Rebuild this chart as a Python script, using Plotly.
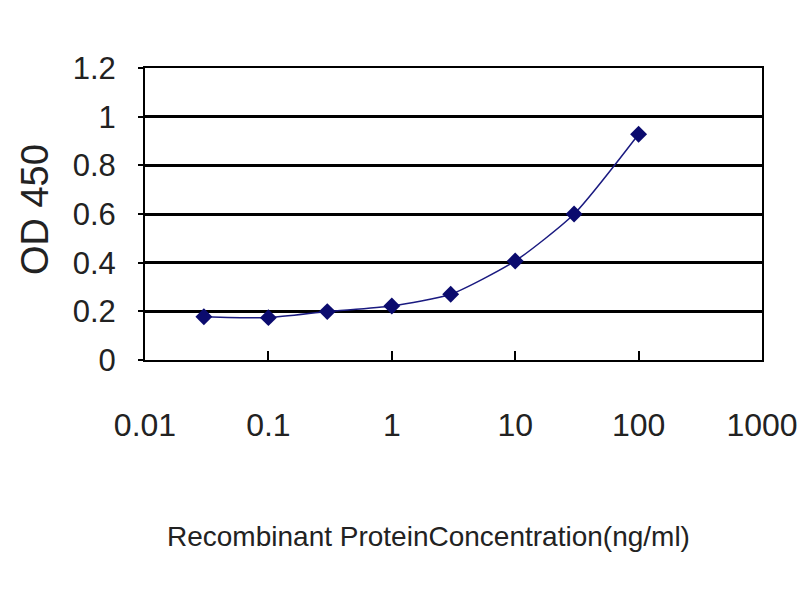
import plotly.graph_objects as go

concentration = [0.03, 0.1, 0.3, 1, 3, 10, 30, 100]
od450 = [0.178, 0.174, 0.199, 0.222, 0.27, 0.407, 0.60, 0.928]
x_tick_vals = [0.01, 0.1, 1, 10, 100, 1000]
x_tick_text = ["0.01", "0.1", "1", "10", "100", "1000"]
y_tick_vals = [0, 0.2, 0.4, 0.6, 0.8, 1.0, 1.2]
y_tick_text = ["0", "0.2", "0.4", "0.6", "0.8", "1", "1.2"]
x_title = "Recombinant ProteinConcentration(ng/ml)"
y_title = "OD 450"

FONT = "Liberation Sans, Arial, sans-serif"
TXT = "#222222"

fig = go.Figure()
fig.add_trace(go.Scatter(
    x=concentration, y=od450, mode="lines+markers",
    line=dict(color="#1a1a80", width=1.5, shape="spline", smoothing=0.6),
    marker=dict(symbol="diamond", size=13, color="#0b0b6e"),
    showlegend=False,
))

fig.update_layout(
    width=800, height=600,
    margin=dict(l=145, r=38, t=68, b=240, autoexpand=False),
    paper_bgcolor="white", plot_bgcolor="white",
    font=dict(family=FONT, color=TXT),
    annotations=[
        dict(text=x_title, xref="paper", yref="paper", x=0.46, y=-0.606,
             xanchor="center", yanchor="middle", showarrow=False,
             font=dict(size=28, family=FONT, color=TXT)),
        dict(text=y_title, xref="paper", yref="paper", x=-0.178, y=0.514,
             xanchor="center", yanchor="middle", showarrow=False, textangle=-90,
             font=dict(size=38, family=FONT, color=TXT)),
    ],
)
fig.update_xaxes(
    type="log", range=[-2, 3], automargin=False,
    tickvals=x_tick_vals, ticktext=x_tick_text,
    tickfont=dict(size=32, family=FONT, color=TXT),
    ticklabeloverflow="allow",
    ticks="inside", ticklen=9, tickwidth=1.5, tickcolor="black",
    showgrid=False, zeroline=False,
    showline=True, linecolor="black", linewidth=2, mirror=True,
    ticklabelstandoff=36,
)
fig.update_yaxes(
    range=[0, 1.2], automargin=False,
    tickvals=y_tick_vals, ticktext=y_tick_text,
    tickfont=dict(size=31, family=FONT, color=TXT),
    ticks="outside", ticklen=5, tickwidth=1.5, tickcolor="black",
    showgrid=True, gridcolor="black", gridwidth=2.5,
    zeroline=False,
    showline=True, linecolor="black", linewidth=2, mirror=True,
    ticklabelstandoff=16,
)

# remove the page's default body margin so the 800x600 figure fills the window
fig.write_html(
    "out.html",
    config={"displayModeBar": False},
    post_script="document.body.style.margin='0';document.body.style.overflow='hidden';",
)
